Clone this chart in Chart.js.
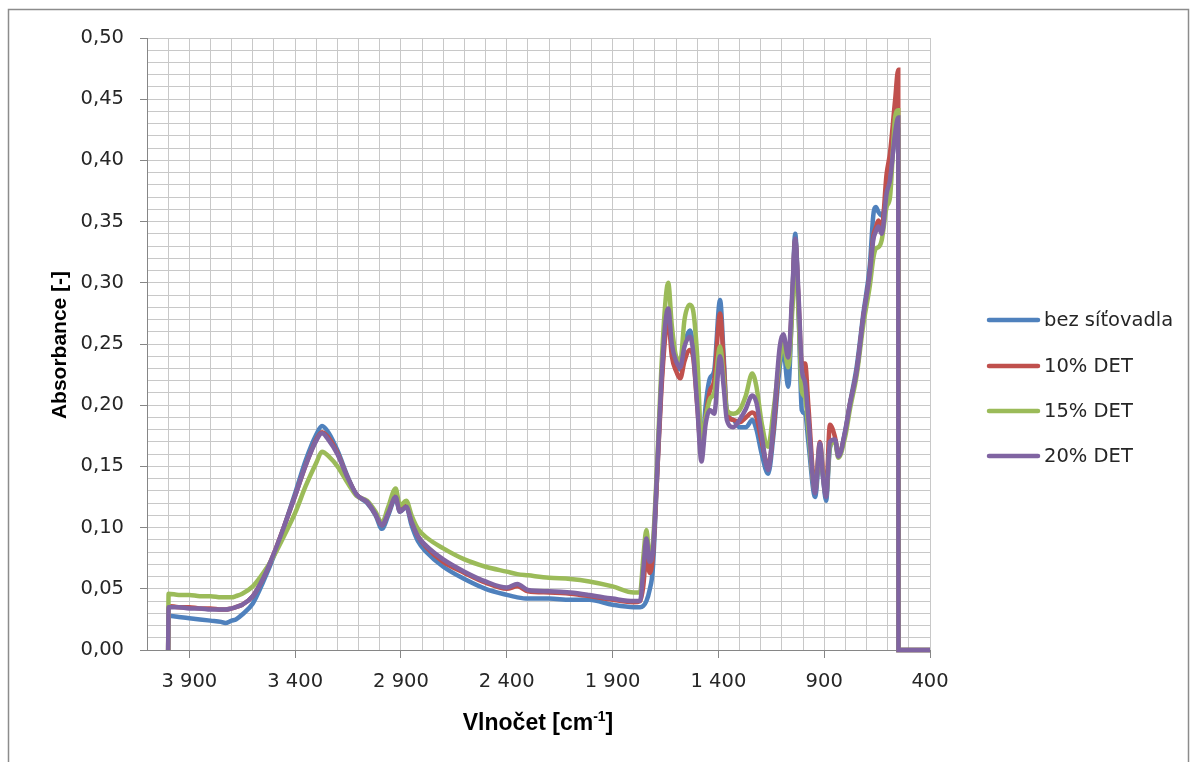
<!DOCTYPE html>
<html><head><meta charset="utf-8">
<script src="https://cdn.jsdelivr.net/npm/chart.js@4.4.1/dist/chart.umd.min.js"></script>
<style>html,body{margin:0;padding:0;background:#fff;}#wrap{position:relative;width:1194px;height:762px;}</style>
</head><body><div id="wrap"><canvas id="c" width="1194" height="762"></canvas></div>
<script>
const wavenumbers = [
 4000,3998,3950,3900,3850,3800,3750,3730,3700,3680,
 3650,3600,3550,3500,3450,3400,3350,3300,3273,3240,
 3200,3150,3110,3060,3020,2990,2960,2925,2905,2875,
 2850,2820,2780,2700,2600,2500,2400,2350,2300,2200,
 2100,2010,1900,1800,1770,1755,1740,1725,1710,1690,
 1670,1650,1637,1620,1600,1580,1560,1535,1520,1500,
 1480,1460,1440,1420,1392,1375,1360,1330,1300,1270,
 1240,1220,1195,1165,1140,1110,1093,1070,1050,1037,
 1020,1006,990,975,943,920,905,891,873,849,
 833,800,778,746,715,684,668,656,644,628,
 605,589,565,550,549,400];

const bezSitovadla = [
 0,.028,.027,.026,.025,.024,.023,.022,.024,.025,
 .029,.038,.056,.077,.102,.128,.155,.176,.183,.177,
 .163,.141,.127,.120,.110,.099,.110,.124,.113,.117,
 .102,.089,.080,.068,.058,.050,.045,.043,.042,.042,
 .041,.041,.037,.035,.035,.036,.040,.049,.066,.140,
 .215,.265,.275,.250,.235,.229,.250,.261,.250,.210,
 .160,.200,.222,.228,.286,.240,.195,.188,.182,.182,
 .188,.180,.160,.144,.175,.231,.245,.215,.290,.340,
 .270,.196,.193,.170,.125,.160,.140,.122,.165,.172,
 .158,.180,.202,.232,.275,.315,.355,.362,.358,.355,
 .370,.385,.420,.425,0,0];

const det10 = [
 0,.036,.035,.035,.034,.034,.033,.033,.034,.035,
 .037,.044,.059,.079,.102,.126,.151,.172,.178,.173,
 .161,.140,.127,.121,.111,.102,.112,.126,.114,.118,
 .105,.093,.084,.072,.063,.055,.050,.052,.048,.047,
 .046,.044,.041,.039,.040,.052,.078,.063,.076,.140,
 .210,.258,.270,.240,.228,.222,.236,.245,.240,.200,
 .162,.190,.212,.220,.275,.235,.192,.188,.186,.190,
 .194,.190,.170,.150,.180,.240,.255,.235,.290,.335,
 .280,.234,.234,.200,.132,.170,.145,.130,.184,.174,
 .160,.178,.201,.228,.272,.308,.338,.345,.351,.345,
 .389,.406,.449,.474,0,0];

const det15 = [
 0,.046,.045,.045,.044,.044,.043,.043,.043,.044,
 .046,.052,.063,.077,.094,.112,.134,.153,.162,.158,
 .150,.136,.126,.122,.113,.104,.117,.132,.118,.122,
 .110,.099,.092,.083,.074,.068,.064,.062,.061,.059,
 .058,.056,.052,.047,.047,.075,.098,.075,.086,.150,
 .228,.285,.300,.265,.240,.236,.270,.282,.278,.240,
 .172,.190,.205,.210,.248,.222,.196,.193,.196,.208,
 .226,.215,.185,.166,.195,.237,.250,.231,.280,.324,
 .270,.212,.206,.180,.130,.165,.142,.126,.166,.170,
 .157,.175,.197,.225,.266,.298,.320,.328,.329,.335,
 .362,.370,.435,.441,0,0];

const det20 = [
 0,.035,.035,.034,.034,.033,.033,.033,.034,.035,
 .037,.044,.059,.079,.102,.126,.151,.171,.177,.171,
 .160,.140,.127,.121,.111,.102,.112,.125,.113,.117,
 .105,.093,.085,.074,.064,.056,.051,.054,.049,.048,
 .047,.045,.042,.040,.040,.065,.091,.072,.080,.145,
 .218,.268,.279,.250,.236,.231,.248,.256,.245,.200,
 .154,.185,.196,.193,.240,.215,.188,.182,.188,.197,
 .208,.202,.175,.147,.185,.248,.258,.239,.295,.336,
 .285,.230,.218,.190,.128,.169,.140,.125,.170,.172,
 .158,.179,.201,.228,.272,.308,.335,.342,.346,.340,
 .373,.384,.422,.435,0,0];

const seriesNames = ['bez síťovadla','10% DET','15% DET','20% DET'];
const seriesColors = ['#4F81BD','#C0504D','#9BBB59','#8064A2'];
const xTickValues = [3900,3400,2900,2400,1900,1400,900,400];
const xTickLabels = ['3 900','3 400','2 900','2 400','1 900','1 400','900','400'];
const yTickValues = [0,5,10,15,20,25,30,35,40,45,50]; // hundredths
const yTickLabels = ['0,00','0,05','0,10','0,15','0,20','0,25','0,30','0,35','0,40','0,45','0,50'];

const AXIS = '#868686', GRID = '#c8c8c8', TXT = '#262626';
const seriesData = [bezSitovadla, det10, det15, det20];

const decor = {
  id: 'decor',
  beforeDraw(chart) {
    const c = chart.ctx;
    c.save();
    c.fillStyle = '#fff';
    c.fillRect(0, 0, chart.width, chart.height);
    c.strokeStyle = '#8c8c8c';
    c.lineWidth = 1.5;
    c.strokeRect(8.5, 9.5, 1180, 800);
    c.restore();
  },
  afterDraw(chart) {
    const c = chart.ctx;
    c.save();
    const ly = [320, 366, 411, 456];
    seriesNames.forEach((n, i) => {
      c.strokeStyle = seriesColors[i];
      c.lineWidth = 4.5;
      c.lineCap = 'round';
      c.beginPath(); c.moveTo(989, ly[i]); c.lineTo(1038, ly[i]); c.stroke();
      c.fillStyle = TXT;
      c.font = '19.5px "DejaVu Sans"';
      c.textBaseline = 'middle';
      c.textAlign = 'left';
      c.fillText(n, 1044, ly[i] + 1);
    });
    c.fillStyle = '#000';
    c.font = 'bold 21px "Liberation Sans"';
    c.textAlign = 'center';
    c.textBaseline = 'middle';
    c.translate(60, 345);
    c.rotate(-Math.PI / 2);
    c.fillText('Absorbance [-]', 0, 0);
    c.setTransform(1, 0, 0, 1, 0, 0);
    const main = 'Vlnočet [cm', sup = '-1', end = ']';
    const fMain = 'bold 23px "Liberation Sans"', fSup = 'bold 14px "Liberation Sans"';
    c.font = fMain; const w1 = c.measureText(main).width, w3 = c.measureText(end).width;
    c.font = fSup; const w2 = c.measureText(sup).width;
    let x = 538 - (w1 + w2 + w3) / 2;
    c.textAlign = 'left'; c.textBaseline = 'alphabetic';
    c.font = fMain; c.fillText(main, x, 730); x += w1;
    c.font = fSup; c.fillText(sup, x, 721); x += w2;
    c.font = fMain; c.fillText(end, x, 730);
    c.restore();
  }
};

new Chart(document.getElementById('c'), {
  type: 'line',
  data: {
    datasets: seriesData.map((arr, i) => ({
      label: seriesNames[i],
      data: wavenumbers.map((w, j) => ({x: w, y: arr[j]})),
      borderColor: seriesColors[i],
      backgroundColor: seriesColors[i],
      borderWidth: 4.5,
      pointRadius: 0,
      fill: false,
      cubicInterpolationMode: 'monotone',
      order: 4 - i,
      clip: false
    }))
  },
  options: {
    responsive: false,
    animation: false,
    devicePixelRatio: 1,
    layout: {padding: {left: 0, top: 38, right: 264, bottom: 0}},
    plugins: {legend: {display: false}, tooltip: {enabled: false}},
    scales: {
      x: {
        type: 'linear', reverse: true, min: 400, max: 4100,
        afterFit: s => { s.height = 112; },
        ticks: {
          stepSize: 100, autoSkip: false, maxRotation: 0, minRotation: 0, padding: 12,
          color: TXT, font: {family: 'DejaVu Sans', size: 19.5},
          callback: v => { const k = xTickValues.indexOf(Math.round(v)); return k >= 0 ? xTickLabels[k] : ''; }
        },
        grid: {
          color: GRID, lineWidth: 1, tickLength: 8,
          tickColor: c => (c.tick && xTickValues.includes(Math.round(c.tick.value))) ? AXIS : 'rgba(0,0,0,0)'
        },
        border: {color: AXIS, width: 1}
      },
      y: {
        min: 0, max: 0.5,
        afterFit: s => { s.width = 147; },
        ticks: {
          stepSize: 0.01, autoSkip: false, padding: 16,
          color: TXT, font: {family: 'DejaVu Sans', size: 19.5},
          callback: v => { const k = yTickValues.indexOf(Math.round(v * 100)); return k >= 0 ? yTickLabels[k] : ''; }
        },
        grid: {
          color: GRID, lineWidth: 1, tickLength: 7,
          tickColor: c => (c.tick && yTickValues.includes(Math.round(c.tick.value * 100))) ? AXIS : 'rgba(0,0,0,0)'
        },
        border: {color: AXIS, width: 1}
      }
    }
  },
  plugins: [decor]
});
</script></body></html>
